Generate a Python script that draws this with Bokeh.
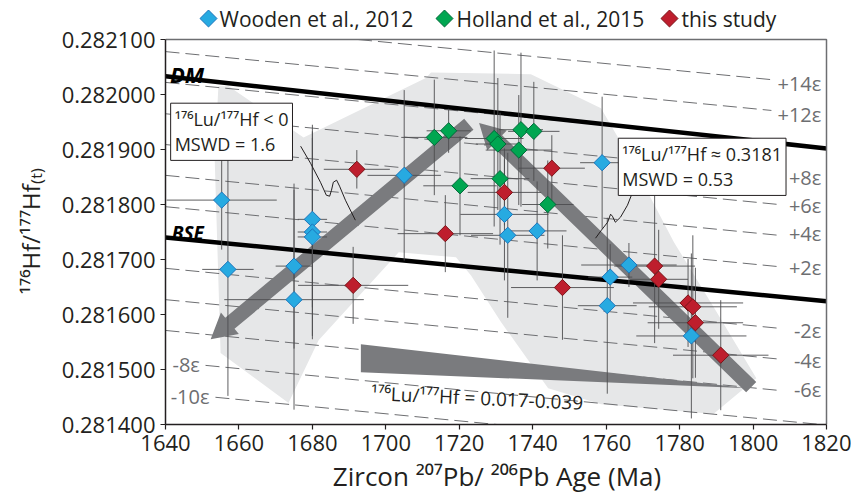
import math
from bokeh.plotting import figure
from bokeh.models import (Range1d, FixedTicker, PrintfTickFormatter, Label)
from bokeh.embed import file_html
from bokeh.resources import INLINE

# ---------------- data ----------------
wooden_age = [1655.3, 1657.0, 1675.0, 1675.0, 1680.0, 1680.0, 1680.0, 1705.0, 1732.3, 1733.2,
              1741.2, 1758.9, 1761.1, 1760.3, 1766.2, 1783.2]
wooden_hf = [0.281808, 0.281682, 0.281688, 0.281627, 0.281773, 0.281750, 0.281741, 0.281853, 0.281782, 0.281744,
             0.281752, 0.281876, 0.281668, 0.281616, 0.281690, 0.281561]
wooden_xerr = [15, 7, 5, 19, 4, 4, 4, 10, 12, 10, 8, 6, 6, 8, 13, 15]
wooden_yerr = [0.000090, 0.000230, 0.000150, 0.000200, 0.000160, 0.000195, 0.000180, 0.000155, 0.000120, 0.000150,
               0.000090, 0.000120, 0.000060, 0.000160, 0.000040, 0.000150]

holland_age = [1713.2, 1717.1, 1720.2, 1729.5, 1730.5, 1736.8, 1740.3, 1736.2, 1731.1, 1744.1]
holland_hf = [0.281922, 0.281934, 0.281834, 0.281920, 0.281910, 0.281936, 0.281933, 0.281899, 0.281847, 0.281800]
holland_xerr = [9, 6, 10, 8, 6, 6, 7, 9, 8, 7]
holland_yerr = [0.000105, 0.000040, 0.000090, 0.000160, 0.000120, 0.000140, 0.000090, 0.000100, 0.000120, 0.000080]

study_age = [1692.1, 1691.1, 1716.2, 1732.3, 1745.2, 1748.1, 1773.2, 1774.3, 1782.3, 1783.6, 1784.3, 1791.2]
study_hf = [0.281864, 0.281653, 0.281747, 0.281822, 0.281866, 0.281649, 0.281688, 0.281664, 0.281621, 0.281614,
            0.281585, 0.281526]
study_xerr = [9, 15, 13, 10, 9, 14, 11, 8, 15, 12, 13, 13]
study_yerr = [0.000035, 0.000070, 0.000070, 0.000060, 0.000060, 0.000095, 0.000140, 0.000090, 0.000080, 0.000130,
              0.000100, 0.000100]

series_names = ["Wooden et al., 2012", "Holland et al., 2015", "this study"]

# reference evolution lines (end values)
dm_age = [1640, 1820]
dm_hf = [0.282033, 0.281902]
bse_age = [1640, 1820]
bse_hf = [0.281740, 0.281624]

eps_names = ["+14ε", "+12ε", "+10ε", "+8ε", "+6ε", "+4ε", "+2ε", "-2ε", "-4ε", "-6ε", "-8ε", "-10ε"]
eps_age0 = [1640, 1640, 1640, 1640, 1640, 1640, 1640, 1640, 1640, 1640, 1650.9, 1653.6]
eps_hf0 = [0.282134, 0.282078, 0.282022, 0.281965, 0.281909, 0.281853, 0.281796, 0.281684, 0.281627, 0.281571,
           0.2815075, 0.2814495]
eps_age1 = [1805, 1805, 1805, 1807, 1807, 1807, 1807, 1807, 1807, 1807, 1820, 1820]
eps_hf1 = [0.282027, 0.281971, 0.281915, 0.281856, 0.281800, 0.281744, 0.281687, 0.281575, 0.281519, 0.281462,
           0.281399, 0.281342]
eps_label_names = ["+14ε", "+12ε", "+8ε", "+6ε", "+4ε", "+2ε", "-2ε", "-4ε", "-6ε", "-8ε", "-10ε"]
eps_label_age = [1818.6, 1818.6, 1818.6, 1818.6, 1818.6, 1818.6, 1818.6, 1818.6, 1818.6, 1641.9, 1641.4]
eps_label_hf = [0.2820205, 0.2819642, 0.2818496, 0.2817987, 0.2817478, 0.281686, 0.2815715, 0.2815169, 0.2814642,
                0.2815096, 0.2814515]

# light grey field outline
field_age = [1654.4, 1657.2, 1677.6, 1710.9, 1712.3, 1739.5, 1758.6, 1766.0, 1778.5, 1789.5, 1800.9, 1789.2,
             1758.6, 1744.2, 1731.4, 1723.2, 1719.1, 1703.5, 1681.7, 1673.5, 1655.0, 1653.4]
field_hf = [0.282015, 0.282015, 0.281922, 0.282030, 0.282040, 0.282037, 0.281975, 0.281890, 0.281731, 0.281611,
            0.281484, 0.281419, 0.281437, 0.281466, 0.281586, 0.281671, 0.281704, 0.281713, 0.281553, 0.281439,
            0.281530, 0.281881]

# trend arrows: (tail, head)
arrow_tail_age = [1722.6, 1799.5]
arrow_tail_hf = [0.281946, 0.281468]
arrow_head_age = [1652.3, 1725.4]
arrow_head_hf = [0.281555, 0.281948]

wedge_age = [1693.2, 1693.2, 1798.5]
wedge_hf = [0.281546, 0.281495, 0.281466]

lead1_age = [1676.8, 1679.5, 1682.2, 1683.8, 1684.7, 1685.2, 1685.7, 1686.6, 1687.4, 1689.0, 1691.7]
lead1_hf = [0.281906, 0.281875, 0.2818405, 0.2818169, 0.2818151, 0.281826, 0.2818405, 0.2818442, 0.2818333,
            0.2818078, 0.2817715]
lead2_age = [1767.2, 1765.8, 1763.9, 1762.5, 1761.7, 1761.2, 1760.4, 1758.7, 1757.1]
lead2_hf = [0.2818224, 0.2817987, 0.2817769, 0.2817678, 0.2817787, 0.2817824, 0.2817678, 0.2817533, 0.2817387]

x_ticks = [1640, 1660, 1680, 1700, 1720, 1740, 1760, 1780, 1800, 1820]
y_ticks = [0.2814, 0.2815, 0.2816, 0.2817, 0.2818, 0.2819, 0.2820, 0.2821]

# ---------------- figure ----------------
X0, X1 = 1640, 1820
Y0, Y1 = 0.2814, 0.2821
W, H = 851, 497
BL, BB = 165, 73
PW, PH = 661, 385            # plotting box (axes extent) in px
TOP, RIGHT_PAD = 39, 2       # extra frame room above (legend) and to the right (border)
sx = PW / (X1 - X0)
sy = PH / (Y1 - Y0)
FW, FH = PW + RIGHT_PAD, PH + TOP
FONT = "Open Sans"
INK = "#231f20"
GREY = "#6d6e71"

p = figure(frame_width=FW, frame_height=FH,
           x_range=Range1d(X0, X1 + RIGHT_PAD / sx), y_range=Range1d(Y0, Y1 + TOP / sy),
           output_backend="svg", toolbar_location=None,
           min_border_left=BL, min_border_right=W - BL - FW, min_border_top=0, min_border_bottom=BB)
p.background_fill_color = "white"
p.border_fill_color = "white"
p.outline_line_color = None
p.xgrid.grid_line_color = None
p.ygrid.grid_line_color = None

p.xaxis.ticker = FixedTicker(ticks=x_ticks)
p.yaxis.ticker = FixedTicker(ticks=y_ticks)
p.xaxis.bounds = (X0, X1)
p.yaxis.bounds = (Y0, Y1)
p.yaxis.formatter = PrintfTickFormatter(format="%.6f")
for ax in (p.xaxis, p.yaxis):
    ax.major_label_text_font = FONT
    ax.major_label_text_font_size = "22px"
    ax.major_label_text_color = INK
    ax.major_tick_out = 5
    ax.major_tick_in = 0
    ax.minor_tick_line_color = None
    ax.axis_line_color = INK
    ax.axis_line_width = 1.5
    ax.major_tick_line_color = INK
    ax.major_tick_line_width = 1.2
    ax.axis_label_text_font = FONT
    ax.axis_label_text_font_style = "normal"
    ax.axis_label_text_color = INK
p.xaxis.axis_label = "Zircon ²⁰⁷Pb/ ²⁰⁶Pb Age (Ma)"
p.xaxis.axis_label_text_font_size = "26px"
p.yaxis.axis_label = "¹⁷⁶Hf/¹⁷⁷Hf₍ₜ₎" + "\u00a0" * 6
p.yaxis.axis_label_text_font_size = "24px"
p.yaxis.axis_label_standoff = 12
p.xaxis.axis_label_standoff = 4


def arrow_poly(xt, yt, xh, yh, shaft=14.5, head_w=28.0, head_l=25.0):
    ax_, ay_ = xt * sx, yt * sy
    bx, by = xh * sx, yh * sy
    dx, dy = bx - ax_, by - ay_
    ln = math.hypot(dx, dy)
    ux, uy = dx / ln, dy / ln
    nx, ny = -uy, ux
    cx, cy = bx - ux * head_l, by - uy * head_l
    pts = [(ax_ + nx * shaft / 2, ay_ + ny * shaft / 2),
           (cx + nx * shaft / 2, cy + ny * shaft / 2),
           (cx + nx * head_w / 2, cy + ny * head_w / 2),
           (bx, by),
           (cx - nx * head_w / 2, cy - ny * head_w / 2),
           (cx - nx * shaft / 2, cy - ny * shaft / 2),
           (ax_ - nx * shaft / 2, ay_ - ny * shaft / 2)]
    return [q[0] / sx for q in pts], [q[1] / sy for q in pts]


# grey field
p.patch(field_age, field_hf, fill_color="#e6e7e8", line_color=None)

# epsilon lines (clipped to the plotting box)
ey0, ey1 = [], []
for a0, h0, a1, h1 in zip(eps_age0, eps_hf0, eps_age1, eps_hf1):
    if h0 > Y1:  # enters through the top border
        a0 = a0 + (a1 - a0) * (h0 - Y1) / (h0 - h1)
        h0 = Y1
    ey0.append((a0, h0))
    ey1.append((a1, h1))
p.segment(x0=[q[0] for q in ey0], y0=[q[1] for q in ey0], x1=[q[0] for q in ey1], y1=[q[1] for q in ey1],
          line_color=GREY, line_width=1, line_dash="14 6")

# arrows
axs, ays = [], []
for i in range(len(arrow_tail_age)):
    a, b = arrow_poly(arrow_tail_age[i], arrow_tail_hf[i], arrow_head_age[i], arrow_head_hf[i])
    axs.append(a)
    ays.append(b)
p.patches(axs, ays, fill_color="#7a7b7e", line_color=None)
p.patch(wedge_age, wedge_hf, fill_color="#7a7b7e", line_color=None)

# DM / BSE
p.line(dm_age, dm_hf, line_color="black", line_width=4.5)
p.line(bse_age, bse_hf, line_color="black", line_width=4.5)

# plot box border (top and right)
p.line([X0, X1, X1], [Y1, Y1, Y0], line_color=GREY, line_width=1.5)

# error bars
ERR = "#4d4d4f"
for ages, hfs, xe, ye in ((wooden_age, wooden_hf, wooden_xerr, wooden_yerr),
                          (holland_age, holland_hf, holland_xerr, holland_yerr),
                          (study_age, study_hf, study_xerr, study_yerr)):
    p.segment(x0=[a - e for a, e in zip(ages, xe)], y0=hfs, x1=[a + e for a, e in zip(ages, xe)], y1=hfs,
              line_color=ERR, line_width=0.9)
    p.segment(x0=ages, y0=[h - e for h, e in zip(hfs, ye)], x1=ages, y1=[h + e for h, e in zip(hfs, ye)],
              line_color=ERR, line_width=0.9)

# leader lines
p.line(lead1_age, lead1_hf, line_color=INK, line_width=1)
p.line(lead2_age, lead2_hf, line_color=INK, line_width=1)

# markers
MS = 11.5
styles = [("#27aae1", "#1c75bc"), ("#00a651", "#006838"), ("#be1e2d", "#7a1418")]
for (ages, hfs), (fc, lc) in zip(((wooden_age, wooden_hf), (holland_age, holland_hf), (study_age, study_hf)),
                                 styles):
    p.scatter(ages, hfs, marker="square", angle=math.pi / 4, size=MS, fill_color=fc, line_color=lc,
              line_width=1)

# legend (drawn in the strip above the plotting box)
leg_y = Y1 + 21 / sy
leg_marker_x = [X0 + 43 / sx, X0 + 279 / sx, X0 + 504 / sx]
leg_text_x = [X0 + 54 / sx, X0 + 291 / sx, X0 + 516 / sx]
for name, mx, tx, (fc, lc) in zip(series_names, leg_marker_x, leg_text_x, styles):
    p.scatter([mx], [leg_y], marker="square", angle=math.pi / 4, size=12, fill_color=fc, line_color=lc,
              line_width=1)
    p.add_layout(Label(x=tx, y=leg_y, text=name, text_baseline="middle", text_font=FONT,
                       text_font_size="21px", text_color=INK))

# epsilon labels
for name, xa, yh in zip(eps_label_names, eps_label_age, eps_label_hf):
    align = "left" if name in ("-8ε", "-10ε") else "right"
    p.add_layout(Label(x=xa, y=yh, text=name, text_align=align, text_baseline="middle",
                       text_font=FONT, text_font_size="20px", text_color=GREY))

# DM / BSE labels
p.add_layout(Label(x=1641.2, y=0.2820376, text="DM", text_baseline="alphabetic", text_font=FONT,
                   text_font_size="22px", text_font_style="bold italic", text_color="black"))
p.add_layout(Label(x=1641.7, y=0.2817478, text="BSE", text_baseline="alphabetic", text_font=FONT,
                   text_font_size="19px", text_font_style="bold italic", text_color="black"))

# boxed notes
p.add_layout(Label(x=1641.4, y=0.2819842, text="¹⁷⁶Lu/¹⁷⁷Hf < 0\nMSWD = 1.6", text_align="left",
                   text_baseline="top", text_font=FONT, text_font_size="18px", text_color=INK,
                   text_line_height=1.05, background_fill_color="white", border_line_color=INK,
                   border_line_width=1, padding=4))
p.add_layout(Label(x=1763.3, y=0.2819205, text="¹⁷⁶Lu/¹⁷⁷Hf ≈ 0.3181\nMSWD = 0.53", text_align="left",
                   text_baseline="top", text_font=FONT, text_font_size="18px", text_color=INK,
                   text_line_height=1.05, background_fill_color="white", border_line_color=INK,
                   border_line_width=1, padding=4))

p.add_layout(Label(x=1696.0, y=0.281457, text="¹⁷⁶Lu/¹⁷⁷Hf = 0.017-0.039", angle=-0.045,
                   text_baseline="alphabetic", text_font=FONT, text_font_size="19px", text_color=INK))

open("out.html", "w").write(file_html(p, INLINE))
